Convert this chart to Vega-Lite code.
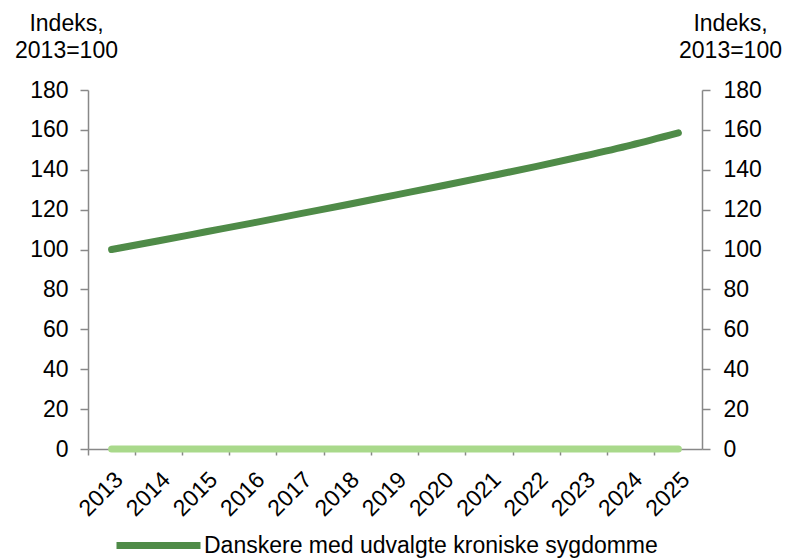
{
  "$schema": "https://vega.github.io/schema/vega-lite/v6.json",
  "width": 614,
  "height": 359,
  "autosize": {"type": "none"},
  "padding": {"left": 88, "top": 90, "right": 84, "bottom": 109},
  "background": "white",
  "config": {
    "font": "Liberation Sans",
    "view": {"stroke": null},
    "axis": {
      "labelFont": "Liberation Sans",
      "labelFontSize": 23,
      "labelColor": "#000000",
      "titleFont": "Liberation Sans",
      "titleFontSize": 23,
      "titleFontWeight": "normal",
      "titleColor": "#000000",
      "domainColor": "#888888",
      "tickColor": "#888888",
      "domainWidth": 1.5,
      "tickWidth": 1.5,
      "grid": false,
      "tickSize": 8
    },
    "legend": {
      "labelFont": "Liberation Sans",
      "labelFontSize": 23,
      "labelColor": "#000000",
      "padding": 0,
      "labelLimit": 0
    }
  },
  "data": {
    "values": [
      {"year": "2013", "value": 100.0, "series": "Danskere med udvalgte kroniske sygdomme"},
      {"year": "2014", "value": 104.4, "series": "Danskere med udvalgte kroniske sygdomme"},
      {"year": "2015", "value": 108.9, "series": "Danskere med udvalgte kroniske sygdomme"},
      {"year": "2016", "value": 113.4, "series": "Danskere med udvalgte kroniske sygdomme"},
      {"year": "2017", "value": 118.0, "series": "Danskere med udvalgte kroniske sygdomme"},
      {"year": "2018", "value": 122.6, "series": "Danskere med udvalgte kroniske sygdomme"},
      {"year": "2019", "value": 127.3, "series": "Danskere med udvalgte kroniske sygdomme"},
      {"year": "2020", "value": 132.0, "series": "Danskere med udvalgte kroniske sygdomme"},
      {"year": "2021", "value": 136.8, "series": "Danskere med udvalgte kroniske sygdomme"},
      {"year": "2022", "value": 141.7, "series": "Danskere med udvalgte kroniske sygdomme"},
      {"year": "2023", "value": 146.9, "series": "Danskere med udvalgte kroniske sygdomme"},
      {"year": "2024", "value": 152.4, "series": "Danskere med udvalgte kroniske sygdomme"},
      {"year": "2025", "value": 158.5, "series": "Danskere med udvalgte kroniske sygdomme"},
      {"year": "2013", "value": 0, "series": "Serie 2"},
      {"year": "2014", "value": 0, "series": "Serie 2"},
      {"year": "2015", "value": 0, "series": "Serie 2"},
      {"year": "2016", "value": 0, "series": "Serie 2"},
      {"year": "2017", "value": 0, "series": "Serie 2"},
      {"year": "2018", "value": 0, "series": "Serie 2"},
      {"year": "2019", "value": 0, "series": "Serie 2"},
      {"year": "2020", "value": 0, "series": "Serie 2"},
      {"year": "2021", "value": 0, "series": "Serie 2"},
      {"year": "2022", "value": 0, "series": "Serie 2"},
      {"year": "2023", "value": 0, "series": "Serie 2"},
      {"year": "2024", "value": 0, "series": "Serie 2"},
      {"year": "2025", "value": 0, "series": "Serie 2"}
    ]
  },
  "encoding": {
    "x": {
      "field": "year",
      "type": "ordinal",
      "scale": {"type": "band", "paddingInner": 0, "paddingOuter": 0},
      "axis": {
        "title": null,
        "labelAngle": -45,
        "bandPosition": 0,
        "tickSize": 6,
        "labelPadding": 13
      }
    },
    "color": {
      "field": "series",
      "type": "nominal",
      "scale": {
        "domain": ["Danskere med udvalgte kroniske sygdomme", "Serie 2"],
        "range": ["#4F8B48", "#A9D98B"]
      },
      "legend": {
        "values": ["Danskere med udvalgte kroniske sygdomme"],
        "title": null,
        "orient": "none",
        "legendX": 25,
        "legendY": 410,
        "symbolType": "stroke",
        "symbolSize": 7056,
        "symbolStrokeWidth": 7,
        "labelOffset": 0
      }
    }
  },
  "layer": [
    {
      "transform": [{"filter": "datum.series == 'Danskere med udvalgte kroniske sygdomme'"}],
      "mark": {"type": "line", "strokeWidth": 7, "strokeCap": "round", "interpolate": "monotone"},
      "encoding": {
        "y": {
          "field": "value",
          "type": "quantitative",
          "scale": {"domain": [0, 180], "nice": false, "zero": true},
          "axis": {
            "orient": "left",
            "values": [0, 20, 40, 60, 80, 100, 120, 140, 160, 180],
            "labelPadding": 12,
            "title": ["Indeks,", "2013=100"],
            "titleAngle": 0,
            "titleAlign": "center",
            "titleBaseline": "top",
            "titleX": -22,
            "titleY": -78,
            "titleLineHeight": 27
          }
        }
      }
    },
    {
      "transform": [{"filter": "datum.series == 'Serie 2'"}],
      "mark": {"type": "line", "strokeWidth": 7, "strokeCap": "round"},
      "encoding": {
        "y": {
          "field": "value",
          "type": "quantitative",
          "scale": {"domain": [0, 180], "nice": false, "zero": true},
          "axis": {
            "orient": "right",
            "values": [0, 20, 40, 60, 80, 100, 120, 140, 160, 180],
            "labelPadding": 13,
            "title": ["Indeks,", "2013=100"],
            "titleAngle": 0,
            "titleAlign": "center",
            "titleBaseline": "top",
            "titleX": 28,
            "titleY": -78,
            "titleLineHeight": 27
          }
        }
      }
    }
  ],
  "resolve": {"scale": {"y": "independent"}}
}
